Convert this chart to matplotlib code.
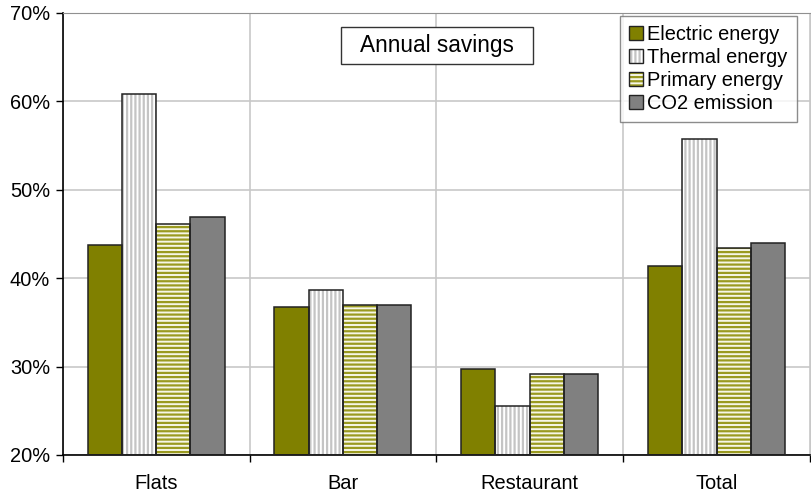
import numpy as np
import matplotlib
matplotlib.use('Agg')
import matplotlib.pyplot as plt
from matplotlib.patches import Patch, Rectangle

categories = ['Flats', 'Bar', 'Restaurant', 'Total']
series = ['Electric energy', 'Thermal energy', 'Primary energy', 'CO2 emission']
electric = [43.7, 36.7, 29.7, 41.4]
thermal = [60.8, 38.6, 25.5, 55.7]
primary = [46.1, 36.9, 29.2, 43.4]
co2 = [46.9, 37.0, 29.1, 44.0]
values = [electric, thermal, primary, co2]

plt.rcParams['font.family'] = ['Liberation Sans', 'DejaVu Sans']
plt.rcParams['hatch.linewidth'] = 1.6

# face colour, hatch pattern, hatch colour
styles = [
    ('#808000', '', '#808000'),
    ('white', '||||', '#c4c4c4'),
    ('#f6f6e6', '----', '#9a9a20'),
    ('#808080', '', '#808080'),
]

fig = plt.figure(figsize=(8.12, 4.94), dpi=100)
ax = fig.add_axes([0.0772, 0.079, 0.9203, 0.8953])

x = np.arange(len(categories))
w = 0.1835
handles = []
for i, (vals, (fc, hatch, hc)) in enumerate(zip(values, styles)):
    pos = x + (i - 1.5) * w
    h = np.array(vals) - 20
    ax.bar(pos, h, w, bottom=20, color=fc, hatch=hatch, edgecolor=hc, linewidth=0, zorder=2)
    ax.bar(pos, h, w, bottom=20, fill=False, edgecolor='#222222', linewidth=1.1, zorder=3)
    fill = Patch(facecolor=fc, hatch=hatch, edgecolor=hc, linewidth=0)
    outline = Patch(fill=False, edgecolor='#222222', linewidth=1.0)
    handles.append((fill, outline))

ax.set_xlim(-0.5, 3.5)
ax.set_ylim(20, 70)
ax.set_yticks(range(20, 71, 10))
ax.set_yticklabels(['%d%%' % v for v in range(20, 71, 10)], fontsize=14.4)
ax.set_xticks(x)
ax.set_xticklabels(categories, fontsize=14.4)
ax.tick_params(axis='x', length=0, pad=13.5)
ax.set_xticks(np.arange(-0.5, 4, 1), minor=True)
ax.tick_params(axis='x', which='minor', length=5, direction='out', width=1)
ax.tick_params(axis='y', length=5, direction='out', width=1, pad=4)

ax.grid(axis='y', color='#c8c8c8', linewidth=1.2, zorder=0)
ax.grid(axis='x', which='minor', color='#c8c8c8', linewidth=1.2, zorder=0)
ax.spines['top'].set_color('#909090')
ax.spines['right'].set_color('#c8c8c8')
ax.spines['left'].set_linewidth(1.2)
ax.spines['bottom'].set_linewidth(1.2)

leg = ax.legend(handles, series, loc='upper right', bbox_to_anchor=(0.9823, 0.9925),
                fontsize=14.4, frameon=True, fancybox=False, edgecolor='#707070',
                handlelength=0.7, handleheight=0.7, handletextpad=0.2,
                labelspacing=0.2, borderpad=0.45, borderaxespad=0)
leg.get_frame().set_linewidth(1.0)

# title box
ax.add_patch(Rectangle((0.3723, 0.884), 0.2568, 0.083, transform=ax.transAxes,
                       facecolor='white', edgecolor='#333333', linewidth=1.0, zorder=5))
ax.text(0.5007, 0.9256, 'Annual savings', transform=ax.transAxes, ha='center', va='center',
        fontsize=16.3, zorder=6)

fig.savefig('out.png', dpi=100)
